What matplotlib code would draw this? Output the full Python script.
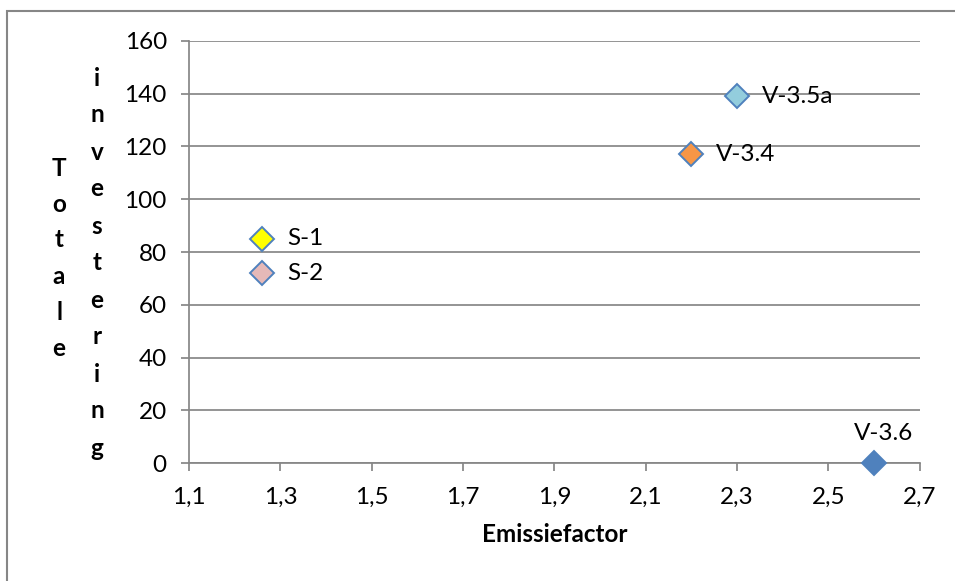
import matplotlib.pyplot as plt
from matplotlib.patches import Rectangle

# Gegevens per variant
namen = ["S-1", "S-2", "V-3.4", "V-3.5a", "V-3.6"]
emissiefactor = [1.26, 1.26, 2.2, 2.3, 2.6]
investering = [85, 72, 117, 139, 0]
kleuren = ["#FFFF00", "#E6B9B8", "#F79646", "#93CDDD", "#4F81BD"]
x_ticks = [1.1, 1.3, 1.5, 1.7, 1.9, 2.1, 2.3, 2.5, 2.7]
y_ticks = [0, 20, 40, 60, 80, 100, 120, 140, 160]

plt.rcParams['font.family'] = ['Lato', 'DejaVu Sans']
grijs = "#868686"
fs = 17.5

fig = plt.figure(figsize=(9.55, 5.81), dpi=100)
ax = fig.add_axes([0.198, 0.203, 0.765, 0.7265])

for naam, x, y, kleur in zip(namen, emissiefactor, investering, kleuren):
    ax.plot(x, y, marker='D', markersize=12, color=kleur,
            markeredgecolor="#4F81BD", markeredgewidth=1.4,
            linestyle='none', zorder=5, clip_on=False)
    if naam == "V-3.6":
        ax.annotate(naam, (x, y), xytext=(7, 14), textcoords='offset points',
                    ha='center', va='bottom', fontsize=fs)
    else:
        ax.annotate(naam, (x, y), xytext=(18, 0), textcoords='offset points',
                    ha='left', va='center', fontsize=fs)

ax.set_xlim(1.1, 2.7)
ax.set_ylim(0, 160)
ax.set_xticks(x_ticks)
ax.set_xticklabels([f"{v:.1f}".replace(".", ",") for v in x_ticks])
ax.set_yticks(y_ticks)
ax.yaxis.grid(True, color=grijs, linewidth=1.25)
ax.set_axisbelow(True)
for kant in ["top", "right"]:
    ax.spines[kant].set_visible(False)
for kant in ["left", "bottom"]:
    ax.spines[kant].set_color(grijs)
    ax.spines[kant].set_linewidth(1.25)
ax.tick_params(axis='both', colors=grijs, labelcolor='black', labelsize=fs,
               length=6, width=1.25)
ax.tick_params(axis='y', pad=10)
ax.tick_params(axis='x', pad=11)

ax.set_xlabel("Emissiefactor", fontsize=fs, fontweight='bold', labelpad=11)

# Verticale aslabel, letter voor letter onder elkaar
def kolom(woord, x_px, y_start_px, stap=37):
    for i, letter in enumerate(woord):
        fig.text(x_px / 955, 1 - (y_start_px + i * stap) / 581, letter,
                 ha='center', va='center', fontsize=fs, fontweight='bold')

kolom("Totale", 59, 168, 36)
kolom("investering", 97, 78)

# Kader rond de grafiek
fig.patches.append(Rectangle((7 / 955, -0.1), 1.2, 1 - 11 / 581 + 0.1,
                             transform=fig.transFigure, fill=False,
                             edgecolor=grijs, linewidth=1.5))

fig.savefig("out.png", dpi=100)
